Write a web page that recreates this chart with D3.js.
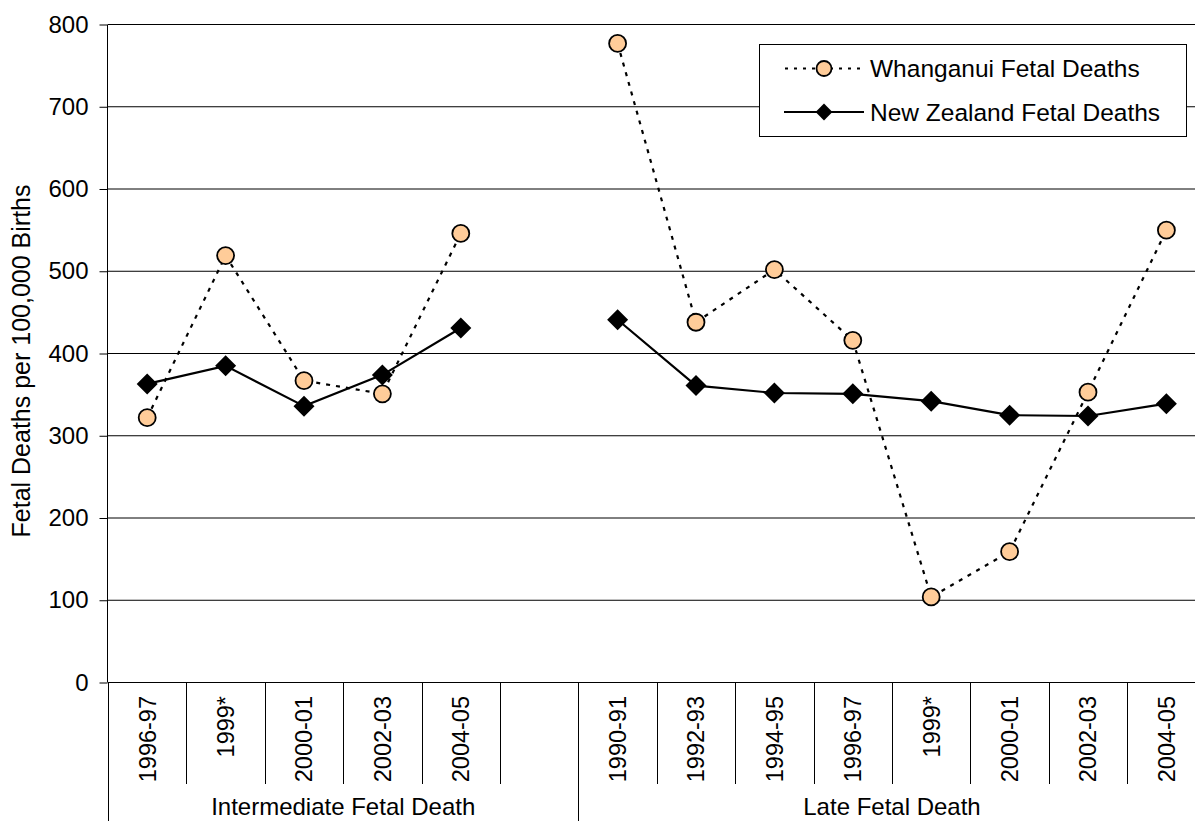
<!DOCTYPE html>
<html>
<head>
<meta charset="utf-8">
<script src="https://cdn.jsdelivr.net/npm/d3@7"></script>
<style>
  html, body { margin: 0; padding: 0; background: #fff; }
  svg { display: block; font-family: "Liberation Sans", Arial, sans-serif; }
</style>
</head>
<body>
<svg id="chart" width="1195" height="821"></svg>
<script>
// Period labels for each group of fetal deaths
const intermediatePeriods = ["1996-97", "1999*", "2000-01", "2002-03", "2004-05"];
const latePeriods = ["1990-91", "1992-93", "1994-95", "1996-97", "1999*", "2000-01", "2002-03", "2004-05"];
const groupNames = ["Intermediate Fetal Death", "Late Fetal Death"];

// Fetal deaths per 100,000 births
const whanganuiIntermediate = [322, 519, 367, 351, 546];
const nzIntermediate = [363, 385, 336, 374, 431];
const whanganuiLate = [777, 438, 502, 416, 104, 159, 353, 550];
const nzLate = [441, 361, 352, 351, 342, 325, 324, 339];

const yTicks = [0, 100, 200, 300, 400, 500, 600, 700, 800];
const seriesNames = ["Whanganui Fetal Deaths", "New Zealand Fetal Deaths"];

const svg = d3.select("#chart");

// Category slots: intermediate periods, one empty slot, late periods
const keysI = intermediatePeriods.map(p => "I|" + p);
const keysL = latePeriods.map(p => "L|" + p);
const domain = [...keysI, "gap", ...keysL];

const x = d3.scaleBand().domain(domain).range([108, 1205.6]).paddingInner(0).paddingOuter(0);
const y = d3.scaleLinear().domain([0, 800]).range([682.5, 24.5]);
const cx = k => x(k) + x.bandwidth() / 2;

// Horizontal gridlines
svg.append("g").selectAll("line").data(yTicks).join("line")
  .attr("x1", 108).attr("x2", 1195)
  .attr("y1", d => y(d)).attr("y2", d => y(d))
  .attr("stroke", "#000").attr("stroke-width", 1);

// Value axis
const yAxis = svg.append("g").attr("transform", "translate(107.5,0)")
  .call(d3.axisLeft(y).tickValues(yTicks).tickSize(8).tickPadding(11).tickFormat(d3.format("d")));
yAxis.select(".domain").attr("stroke", "#000").attr("d", `M0,${y(800)}V${y(0)}`);
yAxis.selectAll(".tick line").attr("stroke", "#000");
yAxis.selectAll(".tick text").attr("font-size", 24).attr("fill", "#000")
  .attr("font-family", "'Liberation Sans', Arial, sans-serif");

svg.append("text")
  .attr("transform", "translate(30,361) rotate(-90)")
  .attr("text-anchor", "middle")
  .attr("font-size", 25)
  .text("Fetal Deaths per 100,000 Births");

// Category axis: dividers between periods and longer dividers between groups
const boundaries = d3.range(domain.length + 1).map(i => 108 + i * x.step());
const groupEdges = [0, keysI.length + 1];
svg.append("g").selectAll("line").data(boundaries).join("line")
  .attr("x1", d => Math.round(d) + 0.5).attr("x2", d => Math.round(d) + 0.5)
  .attr("y1", 683)
  .attr("y2", (d, i) => groupEdges.includes(i) ? 821 : 784)
  .attr("stroke", "#000").attr("stroke-width", 1);

const periodLabels = [
  ...keysI.map(k => ({ key: k, text: k.split("|")[1] })),
  ...keysL.map(k => ({ key: k, text: k.split("|")[1] }))
];
svg.append("g").selectAll("text").data(periodLabels).join("text")
  .attr("transform", d => `translate(${cx(d.key)},696) rotate(-90)`)
  .attr("text-anchor", "end")
  .attr("dy", "0.36em")
  .attr("font-size", 23.5)
  .text(d => d.text);

const groupCenters = [
  (x(keysI[0]) + x("gap") + x.bandwidth()) / 2,
  (x(keysL[0]) + x(keysL[keysL.length - 1]) + x.bandwidth()) / 2
];
svg.append("g").selectAll("text").data(groupNames).join("text")
  .attr("x", (d, i) => groupCenters[i])
  .attr("y", 815)
  .attr("text-anchor", "middle")
  .attr("font-size", 24)
  .text(d => d);

// Series lines, broken between the two groups
const line = d3.line().x(d => cx(d.key)).y(d => y(d.v));
const pair = (keys, vals) => keys.map((k, i) => ({ key: k, v: vals[i] }));

const nzSegs = [pair(keysI, nzIntermediate), pair(keysL, nzLate)];
const whSegs = [pair(keysI, whanganuiIntermediate), pair(keysL, whanganuiLate)];

svg.append("g").selectAll("path").data(nzSegs).join("path")
  .attr("d", line).attr("fill", "none")
  .attr("stroke", "#000").attr("stroke-width", 2.2);

svg.append("g").selectAll("path").data(whSegs).join("path")
  .attr("d", line).attr("fill", "none")
  .attr("stroke", "#000").attr("stroke-width", 2.2)
  .attr("stroke-dasharray", "4,6");

// Markers
const diamondPath = "M0,-10.5L10.5,0L0,10.5L-10.5,0Z";
svg.append("g").selectAll("path").data(nzSegs.flat()).join("path")
  .attr("transform", d => `translate(${cx(d.key)},${y(d.v)})`)
  .attr("d", diamondPath)
  .attr("fill", "#000");

svg.append("g").selectAll("circle").data(whSegs.flat()).join("circle")
  .attr("cx", d => cx(d.key)).attr("cy", d => y(d.v))
  .attr("r", 8.5)
  .attr("fill", "#FFCC99").attr("stroke", "#000").attr("stroke-width", 1.8);

// Legend
const lg = svg.append("g");
lg.append("rect")
  .attr("x", 759.5).attr("y", 44.5).attr("width", 427).attr("height", 92)
  .attr("fill", "#fff").attr("stroke", "#000").attr("stroke-width", 1);

const legendRows = [
  { name: seriesNames[0], yy: 68.5 },
  { name: seriesNames[1], yy: 112.5 }
];
// dotted sample with circle
lg.append("line").attr("x1", 785).attr("x2", 864).attr("y1", 68.5).attr("y2", 68.5)
  .attr("stroke", "#000").attr("stroke-width", 2.2).attr("stroke-dasharray", "3,6");
lg.append("circle").attr("cx", 824).attr("cy", 68.5).attr("r", 7.5)
  .attr("fill", "#FFCC99").attr("stroke", "#000").attr("stroke-width", 1.8);
// solid sample with diamond
lg.append("line").attr("x1", 784).attr("x2", 864).attr("y1", 112).attr("y2", 112)
  .attr("stroke", "#000").attr("stroke-width", 2.2);
lg.append("path").attr("transform", "translate(824,112) scale(0.8)").attr("d", diamondPath).attr("fill", "#000");

lg.selectAll("text.lbl").data(legendRows).join("text")
  .attr("class", "lbl")
  .attr("x", 870).attr("y", d => d.yy)
  .attr("dy", "0.35em")
  .attr("font-size", 24.5)
  .text(d => d.name);
</script>
</body>
</html>
